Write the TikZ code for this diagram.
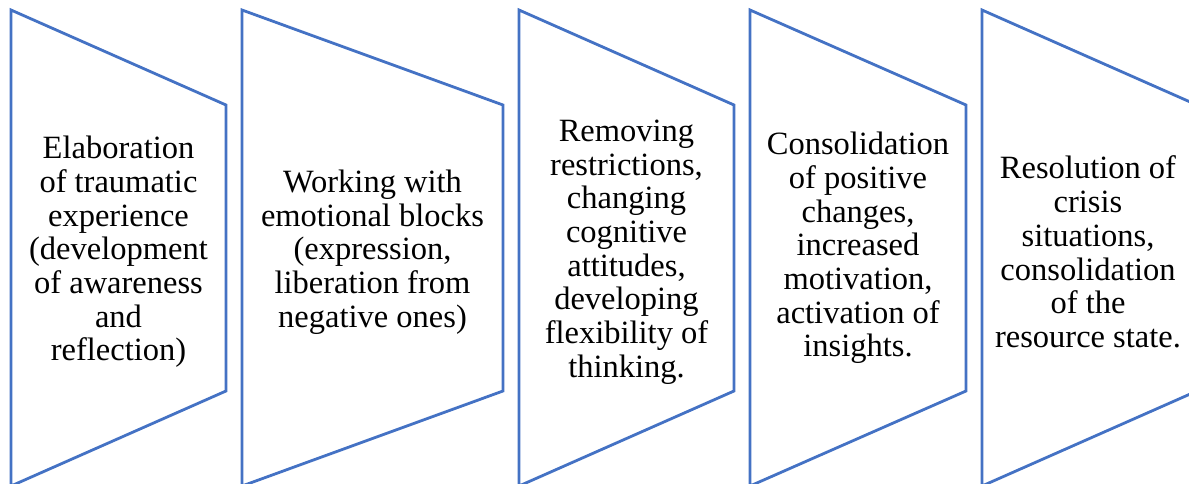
\documentclass[tikz,border=0pt]{standalone}
\usepackage{fontspec}
\setmainfont{Liberation Serif}
\definecolor{stageblue}{HTML}{4472C4}

\begin{document}
\begin{tikzpicture}[x=1pt,y=-1pt,
    stage/.style={draw=stageblue,line width=2.8pt,line join=miter},
    stagetext/.style={align=center,inner sep=0pt,font=\fontsize{32.5}{33.7}\selectfont}]
  \useasboundingbox (0,0) rectangle (1189,484);
  \clip (0,0) rectangle (1189,484);
  \foreach \l/\r in {11/226,242/503,519/734,750/966,982/1197}
    \draw[stage] (\l,10) -- (\r,105) -- (\r,391) -- (\l,486) -- cycle;
  \node[stagetext] (elab) at (118.5,252) {Elaboration\\of traumatic\\experience\\(development\\of awareness\\and\\reflection)};
  \node[stagetext] (blocks) at (372.5,252) {Working with\\emotional blocks\\(expression,\\liberation from\\negative ones)};
  \node[stagetext] (restr) at (626.5,252) {Removing\\restrictions,\\changing\\cognitive\\attitudes,\\developing\\flexibility of\\thinking.};
  \node[stagetext] (consol) at (858,248) {Consolidation\\of positive\\changes,\\increased\\motivation,\\activation of\\insights.};
  \node[stagetext] (crisis) at (1088,252) {Resolution of\\crisis\\situations,\\consolidation\\of the\\resource state.};
\end{tikzpicture}
\end{document}
